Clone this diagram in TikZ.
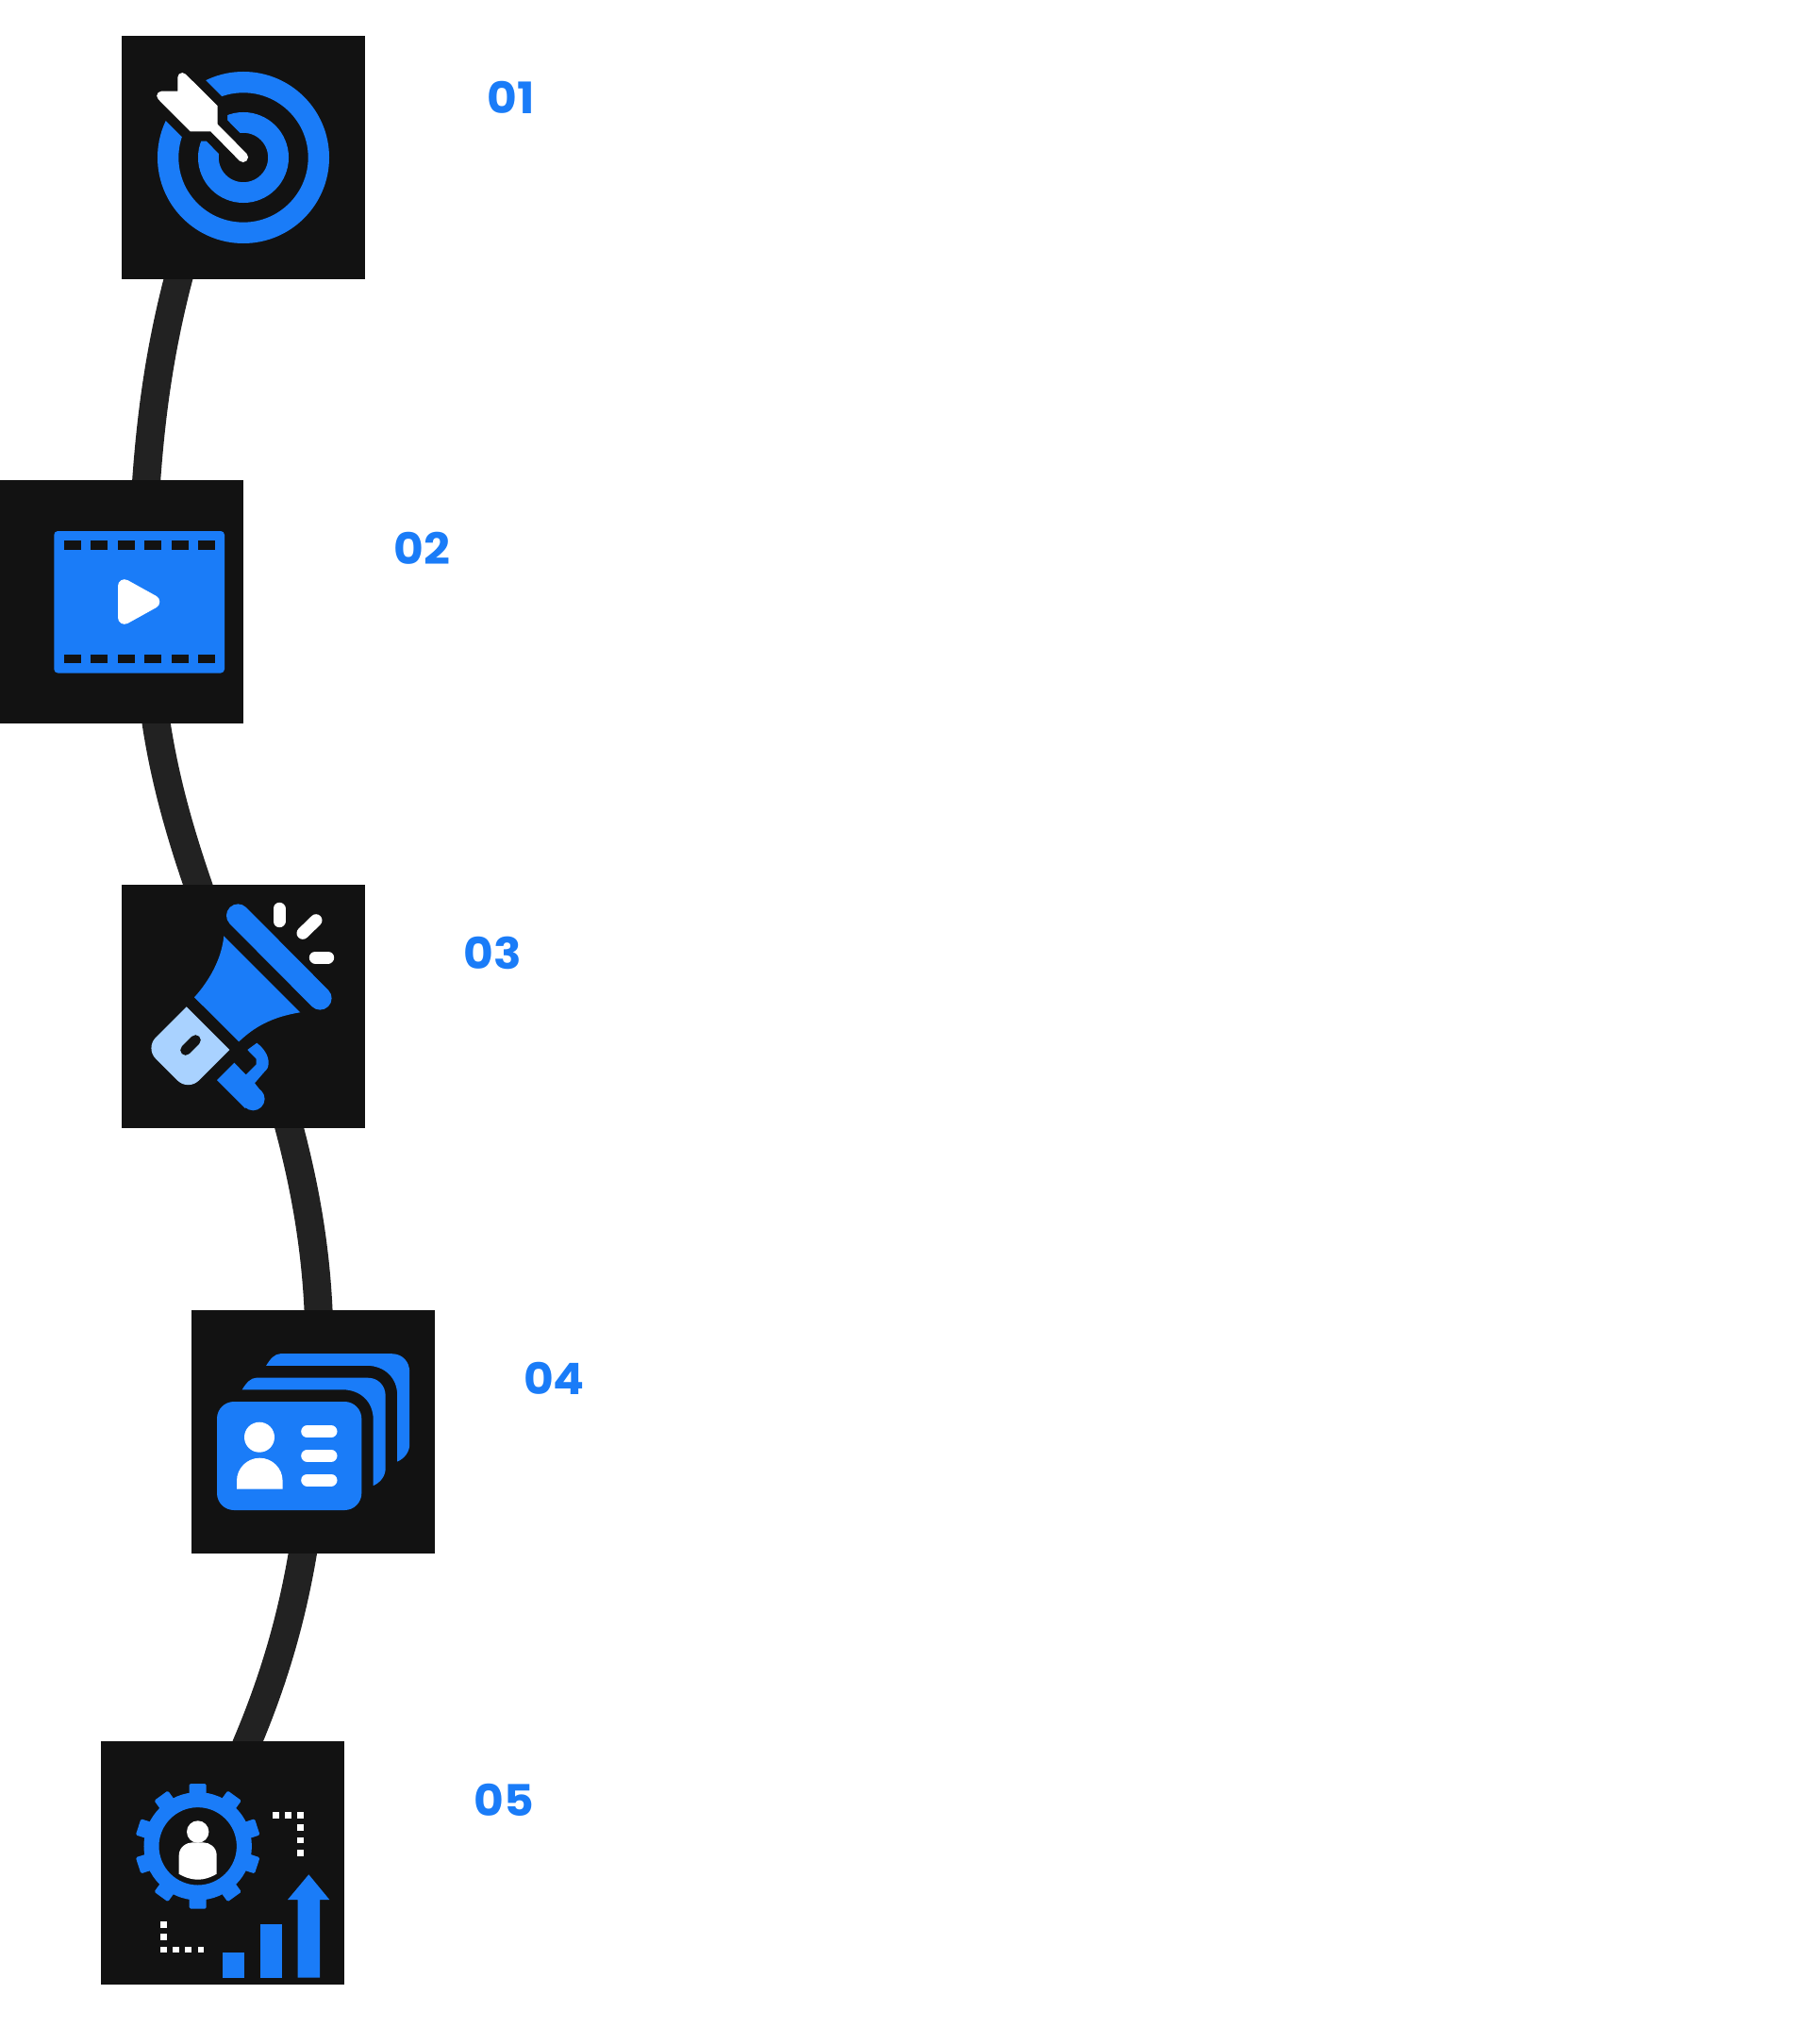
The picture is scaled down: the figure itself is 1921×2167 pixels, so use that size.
\documentclass[tikz,border=0pt]{standalone}
\usepackage{fontspec}
\setmainfont[FakeStretch=1.06]{Poppins}
\usepackage{tikz}
\usetikzlibrary{backgrounds}
\definecolor{boxblack}{HTML}{121212}
\definecolor{linegray}{HTML}{222222}
\definecolor{iconblue}{HTML}{1A7CF8}
\definecolor{iconlight}{HTML}{A9D2FF}
\tikzstyle{iconbox} = [rectangle, fill=boxblack, minimum size=258pt, inner sep=0pt, node distance=450pt]
\tikzstyle{numlabel} = [text=iconblue, font=\bfseries\fontsize{46}{46}\selectfont, inner sep=0pt, text height=33pt, text depth=0pt, yshift=-1.5pt]
\tikzstyle{curveline} = [draw=linegray, line width=30pt]
\tikzstyle{whitebar} = [draw=white, line width=13pt, line cap=round]
\newcommand\dartpath{(-69.7,-70.3) -- (-69.7,-84.9) .. controls (-69.7,-87.7) and (-67.5,-89.9) .. (-64.7,-89.9) .. controls (-63.4,-89.9) and (-62.1,-89.3) .. (-61.2,-88.4) -- (-27.3,-54.7) -- (-27.3,-35.3) -- (3.5,-4.1) .. controls (5.6,-2) and (5.5,1.4) .. (3.45,3.45) .. controls (1.4,5.5) and (-2,5.6) .. (-4.1,3.5) -- (-34.7,-27.7) -- (-56.3,-27.7) -- (-90.3,-61.8) .. controls (-91.2,-62.7) and (-91.8,-64) .. (-91.8,-65.3) .. controls (-91.8,-68.1) and (-89.6,-70.3) .. (-86.8,-70.3) -- cycle}
\newcommand\backcard{(-75.3,-44.7) .. controls (-71,-52) and (-66,-57.3) .. (-60.3,-57.3) -- (58,-57.3) .. controls (69,-57.3) and (76.7,-49) .. (76.7,-38) -- (76.7,38.7) .. controls (76.7,47) and (71,54) .. (63.7,57) -- (63.7,-13) .. controls (63.7,-32) and (50,-44.7) .. (31.3,-44.7) -- cycle}

\begin{document}
\begin{tikzpicture}[x=1pt,y=-1pt]
\useasboundingbox (0,0) rectangle (1921,2167);
%----------------------------------------------------------------------------
% Placement of boxes
\node (target1) [iconbox] at (258,167) {};
\node (video2) [iconbox, below of = target1, xshift=-129pt, node distance=471pt] {};
\node (horn3) [iconbox, below of = video2, xshift=129pt, node distance=429pt] {};
\node (cards4) [iconbox, below of = horn3, xshift=74pt, node distance=451pt] {};
\node (gear5) [iconbox, below of = cards4, xshift=-96pt, node distance=457pt] {};

%----------------------------------------------------------------------------
% Numbers
\node (num1) [numlabel] at (542,103) {01};
\node (num2) [numlabel] at (447.5,580) {02};
\node (num3) [numlabel] at (522,1009) {03};
\node (num4) [numlabel] at (587.5,1460) {04};
\node (num5) [numlabel] at (534,1907.5) {05};

%----------------------------------------------------------------------------
% Lines
\begin{scope}[on background layer]
\draw [curveline] ([xshift=61.6pt,yshift=6pt]target1.south west) .. controls (170,367) and (160,438) .. ([xshift=155pt,yshift=-6pt]video2.north west);
\draw [curveline] ([xshift=165pt,yshift=6pt]video2.south west) .. controls (174,824) and (190,881) .. ([xshift=83pt,yshift=-6pt]horn3.north west);
\draw [curveline] ([xshift=176.4pt,yshift=6pt]horn3.south west) .. controls (324,1260) and (335,1325) .. ([xshift=135pt,yshift=-6pt]cards4.north west);
\draw [curveline] ([xshift=119pt,yshift=6pt]cards4.south west) .. controls (310,1713) and (291,1780) .. ([xshift=153.5pt,yshift=-6pt]gear5.north west);
\end{scope}

%----------------------------------------------------------------------------
% Target icon
\begin{scope}[shift={(target1.center)}]
\draw [iconblue, line width=22.3pt] (0,0) circle [radius=79.85pt];
\draw [iconblue, line width=21.8pt] (0,0) circle [radius=37.1pt];
\draw [boxblack, line width=20.6pt, miter limit=10] \dartpath;
\fill [white] \dartpath;
\end{scope}

%----------------------------------------------------------------------------
% Video icon
\begin{scope}[shift={(video2.center)}]
\fill [iconblue, rounded corners=4pt] (-71.7,-75) rectangle (109,75.5);
\foreach \n in {0,...,5} {
	\fill [boxblack] (-61.3+28.5*\n,-64.7) rectangle (-43.3+28.5*\n,-55.3);
	\fill [boxblack] (-61.3+28.5*\n,56) rectangle (-43.3+28.5*\n,65.3);
}
\fill [white] (-4,-16.8) .. controls (-4,-22.1) and (1.7,-25.5) .. (6.4,-22.9) -- (36.7,-6.1) .. controls (41.5,-3.4) and (41.5,3.4) .. (36.7,6.1) -- (6.4,22.9) .. controls (1.7,25.5) and (-4,22.1) .. (-4,16.8) -- cycle;
\end{scope}

%----------------------------------------------------------------------------
% Megaphone icon
\begin{scope}[shift={(horn3.center)}]
\draw [iconblue, line width=24.6pt, line cap=round] (-5.7,-96.3) -- (81.3,-8.7);
\draw [whitebar] (38,-103.7) -- (38,-90.3);
\draw [whitebar] (77,-91.3) -- (63,-77.7);
\draw [whitebar] (76.3,-52) -- (89.7,-52);
\fill [iconblue] (-20.7,-74.7) -- (60.3,6.3) .. controls (28.7,11.3) and (10.3,23) .. (-4.7,37.3) -- (-52,-9.7) .. controls (-36.3,-27) and (-23,-50.3) .. cycle;
\fill [iconlight, rounded corners=16pt] (-60.3,0.3) [sharp corners] -- (-14.7,46) [rounded corners=16pt] -- (-58.5,89.8) -- (-104.2,44.2) [sharp corners] -- cycle;
\draw [boxblack, line width=11pt, line cap=round] (-61.3,46.3) -- (-50.7,35.7);
\fill [iconblue] (-28,78) -- (-9.7,59.7) -- (2.7,72.3) -- (13.7,61.3) -- (13.7,55.7) -- (4.3,46) -- (14.3,38.7) .. controls (22,44.7) and (26.7,52) .. (26.7,59.7) .. controls (26.7,64.7) and (25,67) .. (22,69.7) -- (12,81.3) -- (18.7,89.7) -- (2,108) -- cycle;
\fill [iconblue] (10.3,98) circle [radius=12.3pt];
\end{scope}

%----------------------------------------------------------------------------
% Cards icon
\begin{scope}[shift={(cards4.center)}]
\fill [iconblue] \backcard;
\begin{scope}[shift={(25.5,-25.5)}]
\fill [iconblue] \backcard;
\end{scope}
\fill [iconblue, rounded corners=18pt] (-102,-32) rectangle (51.3,83);
\fill [white] (-57,5.7) circle [radius=16pt];
\fill [white] (-81,60.7) -- (-81,52) arc [start angle=180, end angle=0, radius=24.3pt] -- (-32.4,60.7) -- cycle;
\foreach \y in {-0.3,25.3,51} {
	\draw [whitebar] (-6.3,\y) -- (19,\y);
}
\end{scope}

%----------------------------------------------------------------------------
% Gear icon
\begin{scope}[shift={(gear5.center)}]
\begin{scope}[shift={(-26.3,-17.7)}]
\draw [iconblue, line width=16pt] (0,0) circle [radius=49.2pt];
\foreach \ang in {0,36,...,324} {
	\fill [iconblue, rotate=\ang, rounded corners=1.5pt] (-9,-50) -- (-9,-66.3) -- (9,-66.3) -- (9,-50) -- cycle;
}
\end{scope}
\fill [white] (-26.3,-33) circle [radius=11.7pt];
\fill [white] (-46.3,11.7) -- (-46.3,-8) .. controls (-46.3,-17) and (-38,-21.7) .. (-32,-21.7) -- (-20.6,-21.7) .. controls (-14,-21.7) and (-6.3,-17) .. (-6.3,-8) -- (-6.3,11.7) .. controls (-14,16) and (-20,17.7) .. (-26.3,17.7) .. controls (-32,17.7) and (-39,16) .. (-46.3,11.7) -- cycle;
\foreach \x/\y in {56.3/-50.7,69.7/-50.7,82.7/-50.7,82.7/-37.3,82.7/-24,82.7/-10.7,-62.7/65.3,-62.7/78.7,-62.7/92,-49.7/92,-36.3/92,-23/92} {
	\fill [white] (\x-3.4,\y-3.4) rectangle (\x+3.4,\y+3.4);
}
\fill [iconblue] (0,95) rectangle (23.3,121.7);
\fill [iconblue] (40,65.3) rectangle (63,121.7);
\fill [iconblue] (79.7,121.7) -- (79.7,39) -- (69,39) -- (91.3,12.3) -- (113.3,39) -- (103,39) -- (103,121.7) -- cycle;
\end{scope}
\end{tikzpicture}
\end{document}
